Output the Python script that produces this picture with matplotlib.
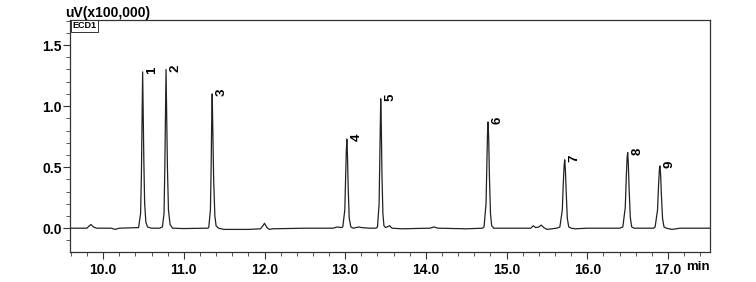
import matplotlib
matplotlib.use("Agg")
import matplotlib.pyplot as plt
from matplotlib.ticker import MultipleLocator, FixedLocator

plt.rcParams['font.family'] = ['Liberation Sans', 'DejaVu Sans']

# Chromatogram trace (time in min, signal in uV x100,000)
time_min = [
    9.59, 9.80, 9.83, 9.85, 9.88, 9.92, 10.10, 10.15, 10.20, 10.44,
    10.465, 10.475, 10.483, 10.49, 10.497, 10.505, 10.515, 10.53, 10.55, 10.60, 10.70,
    10.735, 10.755, 10.765, 10.773, 10.78, 10.788, 10.797, 10.81, 10.83, 10.86,
    11.00, 11.30,
    11.31, 11.33, 11.34, 11.345, 11.352, 11.36, 11.37, 11.385, 11.40, 11.43,
    11.50, 11.80, 11.95, 11.98, 12.00, 12.03, 12.06, 12.10, 12.50, 12.85, 12.90, 12.95,
    12.97, 12.995, 13.005, 13.013, 13.02, 13.028, 13.037, 13.05, 13.07, 13.10,
    13.17, 13.20, 13.30, 13.38,
    13.40, 13.42, 13.428, 13.435, 13.44, 13.447, 13.455, 13.467, 13.48, 13.50,
    13.55, 13.58, 13.70, 14.05, 14.10, 14.15, 14.50, 14.70,
    14.72, 14.745, 14.755, 14.763, 14.77, 14.778, 14.787, 14.80, 14.815, 14.84,
    15.20, 15.30, 15.33, 15.36, 15.40, 15.43, 15.46, 15.50, 15.62,
    15.66, 15.69, 15.703, 15.713, 15.72, 15.728, 15.738, 15.752, 15.77, 15.80,
    15.85, 16.00, 16.40,
    16.44, 16.47, 16.483, 16.493, 16.50, 16.508, 16.518, 16.532, 16.55, 16.58,
    16.82,
    16.84, 16.87, 16.883, 16.893, 16.90, 16.908, 16.918, 16.932, 16.95, 16.98,
    17.05, 17.15, 17.52,
]
signal = [
    0.0, 0.0, 0.02, 0.03, 0.01, 0.0, 0.0, -0.01, 0.0, 0.005,
    0.12, 0.45, 0.90, 1.28, 0.95, 0.55, 0.20, 0.05, 0.01, 0.0, 0.0,
    0.01, 0.12, 0.50, 0.90, 1.30, 0.95, 0.50, 0.15, 0.03, 0.0,
    -0.003, 0.0,
    0.01, 0.15, 0.55, 0.85, 1.10, 0.80, 0.40, 0.10, 0.02, 0.0,
    -0.01, -0.01, -0.005, 0.02, 0.04, 0.005, -0.01, -0.005, 0.0, 0.0, 0.01, 0.005,
    0.01, 0.15, 0.40, 0.62, 0.73, 0.60, 0.33, 0.08, 0.01, 0.0,
    0.01, 0.005, 0.0, 0.0,
    0.01, 0.20, 0.55, 0.90, 1.06, 0.85, 0.45, 0.12, 0.02, 0.005,
    0.02, 0.0, -0.005, 0.0, 0.01, 0.0, -0.005, 0.0,
    0.01, 0.20, 0.50, 0.77, 0.87, 0.73, 0.42, 0.12, 0.02, 0.0,
    0.0, 0.0, 0.02, 0.005, 0.01, 0.025, 0.005, -0.01, 0.0,
    0.01, 0.15, 0.38, 0.52, 0.56, 0.48, 0.30, 0.08, 0.01, 0.0,
    -0.005, 0.0, 0.0,
    0.01, 0.17, 0.42, 0.58, 0.62, 0.53, 0.32, 0.09, 0.01, 0.0,
    0.0,
    0.01, 0.15, 0.36, 0.48, 0.51, 0.44, 0.27, 0.08, 0.01, 0.0,
    -0.01, 0.0, 0.0,
]

# Peak labels
peak_labels = ['1', '2', '3', '4', '5', '6', '7', '8', '9']
peak_times = [10.49, 10.78, 11.352, 13.02, 13.44, 14.77, 15.72, 16.50, 16.90]
peak_heights = [1.28, 1.30, 1.10, 0.73, 1.06, 0.87, 0.56, 0.62, 0.51]

x_ticks = [10.0, 11.0, 12.0, 13.0, 14.0, 15.0, 16.0, 17.0]
x_ticklabels = ['10.0', '11.0', '12.0', '13.0', '14.0', '15.0', '16.0', '17.0']
y_ticks = [0.0, 0.5, 1.0, 1.5]
y_ticklabels = ['0.0', '0.5', '1.0', '1.5']

fig = plt.figure(figsize=(7.56, 2.82), dpi=100)
ax = fig.add_axes([70 / 756, 30 / 282, 640 / 756, 232 / 282])

ax.plot(time_min, signal, color='#222222', linewidth=0.9)

for lab, t, h in zip(peak_labels, peak_times, peak_heights):
    ax.annotate(lab, xy=(t, h), xytext=(2.5, -1.5), textcoords='offset points',
                rotation=90, ha='left', va='bottom', fontsize=9.5,
                fontweight='bold', color='black')

ax.set_xlim(9.59, 17.52)
ax.set_ylim(-0.195, 1.705)

ax.xaxis.set_major_locator(FixedLocator(x_ticks))
ax.set_xticklabels(x_ticklabels)
ax.xaxis.set_minor_locator(MultipleLocator(0.2))
ax.yaxis.set_major_locator(FixedLocator(y_ticks))
ax.set_yticklabels(y_ticklabels)
ax.yaxis.set_minor_locator(MultipleLocator(0.1))

ax.tick_params(which='major', direction='out', length=5, width=0.8,
               color='#333333', labelsize=10, pad=3)
ax.tick_params(which='minor', direction='out', length=3, width=0.7,
               color='#555555')
ax.tick_params(axis='y', which='major', pad=1)
for lab in ax.get_xticklabels() + ax.get_yticklabels():
    lab.set_fontweight('bold')

for sp in ax.spines.values():
    sp.set_color('#333333')
    sp.set_linewidth(0.9)

# y unit label above axes
fig.text(65 / 756, 1 - 13 / 282, 'uV(x100,000)', fontsize=10, fontweight='bold',
         ha='left', va='center')
# channel box
ax.text(0.004, 0.995, 'ECD1', transform=ax.transAxes, fontsize=6.5,
        fontweight='bold', ha='left', va='top',
        bbox=dict(boxstyle='square,pad=0.15', facecolor='white',
                  edgecolor='#333333', linewidth=0.7))
# x unit label, aligned with the tick labels
ax.annotate('min', xy=(1.0, 0.0), xycoords='axes fraction', xytext=(0, -11),
            textcoords='offset points', fontsize=9.5, fontweight='bold',
            ha='right', va='center')

fig.savefig('out.png', dpi=100)
